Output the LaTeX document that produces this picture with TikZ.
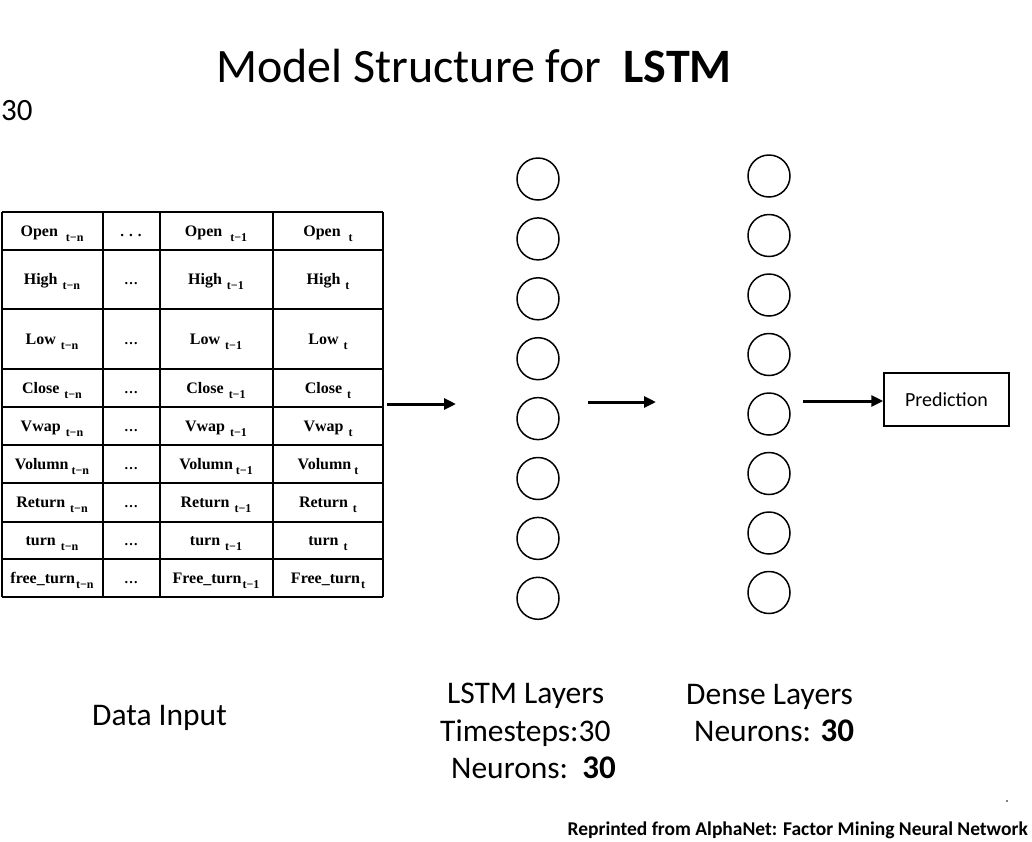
\documentclass[tikz,border=0pt]{standalone}
\usepackage{fontspec}
\setmainfont{Carlito}
\newfontfamily\tabfont{Liberation Serif}
\usetikzlibrary{arrows.meta}
\newcommand{\tcell}[3]{{\tabfont\bfseries\fontsize{16}{16}\selectfont #2}\hspace{#1}\raisebox{-5pt}{\tabfont\bfseries\fontsize{12}{12}\selectfont #3}}
\begin{document}
\begin{tikzpicture}[x=1pt,y=-1pt,
  tline/.style={line width=1.6pt,black},
  neuron/.style={circle,draw,line width=1.5pt,minimum size=42pt,inner sep=0pt},
  arr/.style={line width=3pt,-{Triangle[length=12pt,width=11pt]}},
  lbl/.style={anchor=base west,inner sep=0pt,font=\fontsize{31.5}{31.5}\selectfont},
  cellt/.style={anchor=base,inner sep=0pt},
  predbox/.style={draw,line width=1.5pt,minimum width=125pt,minimum height=53pt,inner sep=0pt,font=\fontsize{20}{20}\selectfont}]
\useasboundingbox (0,0) rectangle (1032,841);
% title
\node[anchor=base west,inner sep=0pt,font=\fontsize{48}{48}\selectfont] (title) at (216,82) {Model Structure for \ \textbf{LSTM}};
\node[anchor=base west,inner sep=0pt,font=\fontsize{31}{31}\selectfont] (topnum) at (1,120) {30};
% table grid
\foreach \y in {212,250,309,369,407,445,483,522,559,597} \draw[tline] (2,\y) -- (383,\y);
\foreach \x in {2,103,160,273,383} \draw[tline] (\x,212) -- (\x,597);
% table texts
\node[cellt] (c11) at (52,236) {\tcell{8pt}{Open}{t−n}};
\node[cellt] (c12) at (131,236) {\tabfont\bfseries\fontsize{15}{15}\selectfont .\,\,.\,\,.};
\node[cellt] (c13) at (216,236) {\tcell{8pt}{Open}{t−1}};
\node[cellt] (c14) at (328,236) {\tcell{8pt}{Open}{t}};
\foreach \i/\nm/\nmb/\y/\g in {2/High/High/284.5/5pt,3/Low/Low/344/5pt,4/Close/Close/393/5pt,5/Vwap/Vwap/431/5pt,6/Volumn/Volumn/469/3pt,7/Return/Return/507.5/5pt,8/turn/turn/545.5/5pt,9/free\_turn/Free\_turn/583/1pt}{
  \node[cellt] (c\i1) at (52,\y) {\tcell{\g}{\nm}{t−n}};
  \node[cellt] (c\i2) at (131,\y) {\tabfont\bfseries\fontsize{14}{14}\selectfont …};
  \node[cellt] (c\i3) at (216,\y) {\tcell{\g}{\nmb}{t−1}};
  \node[cellt] (c\i4) at (328,\y) {\tcell{\g}{\nmb}{t}};
}
% LSTM layer
\foreach \i in {0,...,7} \node[neuron] (l\i) at (538,{179+59.9*\i}) {};
% Dense layer
\foreach \i in {0,...,7} \node[neuron] (d\i) at (769,{176+59.5*\i}) {};
% prediction
\node[predbox] (pred) at (946.5,399.5) {Prediction};
% arrows
\coordinate (a1s) at (387,404); \coordinate (a1e) at (456,404);
\coordinate (a2s) at (588,402); \coordinate (a2e) at (656,402);
\coordinate (a3s) at (803,401);
\draw[arr] (a1s) -- (a1e);
\draw[arr] (a2s) -- (a2e);
\draw[arr] (a3s) -- (a3s -| pred.west);
% labels
\node[lbl] (dIn) at (92,725) {Data Input};
\node[lbl] (lL1) at (447,703) {LSTM Layers};
\node[lbl] (lL2) at (440,741) {Timesteps:30};
\node[lbl] (lL3) at (451,778) {Neurons:\ \ {\fontsize{33}{33}\selectfont\textbf{30}}};
\node[lbl] (dL1) at (686,704) {Dense Layers};
\node[lbl] (dL2) at (694,741) {Neurons: {\fontsize{33}{33}\selectfont\textbf{30}}};
\node[anchor=base east,inner sep=0pt,font=\fontsize{19.5}{19.5}\selectfont\bfseries] (credit) at (1028,835) {Reprinted from AlphaNet: Factor Mining Neural Network};
\fill (1007,801) circle (0.8pt);
\end{tikzpicture}
\end{document}
